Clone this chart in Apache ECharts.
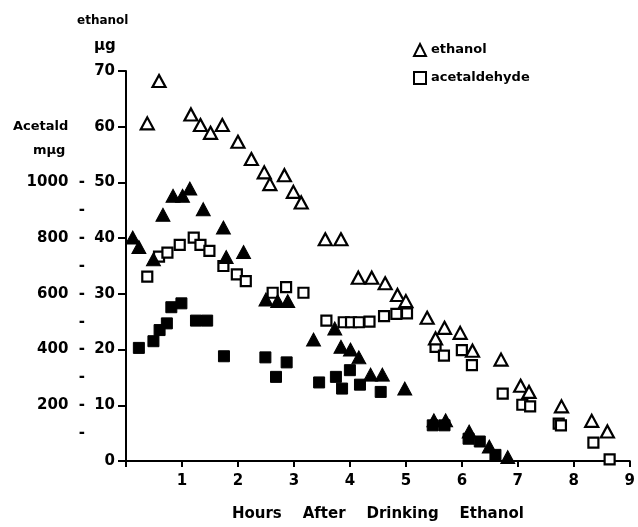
<!DOCTYPE html>
<html>
<head>
<meta charset="utf-8">
<script src="https://cdn.jsdelivr.net/npm/echarts@6/dist/echarts.min.js"></script>
<style>
  html, body { margin: 0; padding: 0; background: #fff; }
  #chart { width: 638px; height: 527px; }
</style>
</head>
<body>
<div id="chart"></div>
<script>
// hours after drinking
const ethHours = [0.38,0.59,1.16,1.33,1.51,1.72,2.0,2.24,2.47,2.57,2.83,2.99,3.13,3.56,3.84,4.15,4.39,4.63,4.85,5.0,5.38,5.53,5.69,5.97,6.19,6.70,7.05,7.20,7.78,8.32,8.60];
const ethVals  = [60.6,68.2,62.2,60.3,58.9,60.3,57.3,54.2,51.8,49.7,51.3,48.3,46.4,39.8,39.8,32.9,32.9,31.9,29.8,28.7,25.7,22.0,23.9,23.0,19.8,18.2,13.5,12.4,9.8,7.2,5.3];

const ethFillHours = [0.12,0.23,0.49,0.66,0.84,1.01,1.14,1.38,1.74,1.79,2.10,2.50,2.71,2.89,3.35,3.73,3.84,4.01,4.16,4.37,4.58,4.98,5.50,5.71,6.13,6.49,6.82];
const ethFillVals  = [40.1,38.4,36.2,44.2,47.6,47.6,48.9,45.2,41.9,36.6,37.5,29.0,28.7,28.7,21.8,23.8,20.5,20.0,18.6,15.5,15.5,13.0,7.3,7.3,5.3,2.6,0.7];

// acetaldehyde in mμg
const aldHours = [0.38,0.59,0.74,0.96,1.21,1.33,1.49,1.74,1.98,2.14,2.62,2.86,3.17,3.58,3.89,4.02,4.16,4.35,4.61,4.83,5.02,5.53,5.68,6.0,6.18,6.73,7.08,7.22,7.73,7.77,8.35,8.64];
const aldVals  = [662,734,748,776,802,776,754,700,670,646,604,624,604,504,498,498,498,500,520,528,530,410,378,398,344,242,202,196,134,128,66,6];

const aldFillHours = [0.23,0.49,0.60,0.73,0.81,0.99,1.25,1.45,1.75,2.49,2.68,2.87,3.45,3.75,3.86,4.0,4.18,4.55,5.48,5.69,6.12,6.32,6.60];
const aldFillVals  = [406,430,470,494,552,566,504,504,376,372,302,354,282,302,260,326,274,248,128,128,80,70,22];

const hourTicks = [1,2,3,4,5,6,7,8,9];

function pairs(xs, ys) { return xs.map((x, i) => [x, ys[i]]); }

const FONT = 'DejaVu Sans';
const chart = echarts.init(document.getElementById('chart'));

const openStyle = { color: '#fff', borderColor: '#000', borderWidth: 2.2, opacity: 1 };
const fillStyle = { color: '#000', borderColor: '#000', borderWidth: 1, opacity: 1 };

chart.setOption({
  animation: false,
  backgroundColor: '#fff',
  grid: { left: 126, right: 6, top: 71, bottom: 56 },
  legend: {
    data: ['ethanol', 'acetaldehyde'],
    orient: 'vertical',
    left: 408, top: 38,
    itemWidth: 12, itemHeight: 12, itemGap: 14,
    textStyle: { fontFamily: FONT, fontWeight: 'bold', fontSize: 13, color: '#000' }
  },
  xAxis: {
    type: 'value', min: 0, max: 9, interval: 1,
    name: 'Hours    After    Drinking    Ethanol',
    nameLocation: 'middle', nameGap: 46,
    nameTextStyle: { fontFamily: FONT, fontWeight: 'bold', fontSize: 15, color: '#000' },
    axisLine: { lineStyle: { color: '#000', width: 2 } },
    axisTick: { length: 6, lineStyle: { color: '#000', width: 2 } },
    splitLine: { show: false },
    axisLabel: {
      margin: 13, fontFamily: FONT, fontWeight: 'bold', fontSize: 15, color: '#000',
      formatter: v => hourTicks.includes(v) ? String(v) : ''
    }
  },
  yAxis: [{
    type: 'value', min: 0, max: 70, interval: 10, position: 'left',
    axisLine: { show: true, lineStyle: { color: '#000', width: 2 } },
    axisTick: { show: true, length: 8, lineStyle: { color: '#000', width: 2 } },
    splitLine: { show: false },
    axisLabel: { margin: 11, fontFamily: FONT, fontWeight: 'bold', fontSize: 15, color: '#000' }
  }, {
    type: 'value', min: 0, max: 1400, interval: 100, position: 'left',
    axisLine: { show: false }, axisTick: { show: false }, splitLine: { show: false },
    axisLabel: {
      margin: 41, fontFamily: FONT, fontWeight: 'bold', fontSize: 15, color: '#000',
      formatter: v => {
        if (v <= 0 || v > 1000) return '';
        return v % 200 === 0 ? v + '  -' : '-';
      }
    }
  }],
  graphic: [
    { type: 'text', left: 77, top: 15, style: { text: 'ethanol', font: 'bold 12px "DejaVu Sans"', fill: '#000' } },
    { type: 'text', left: 94, top: 39, style: { text: 'μg', font: 'bold 15px "DejaVu Sans"', fill: '#000' } },
    { type: 'text', left: 13, top: 120, style: { text: 'Acetald', font: 'bold 13px "DejaVu Sans"', fill: '#000' } },
    { type: 'text', left: 33, top: 144, style: { text: 'mμg', font: 'bold 13px "DejaVu Sans"', fill: '#000' } }
  ],
  series: [
    { name: 'acetaldehyde', type: 'scatter', yAxisIndex: 1, symbol: 'rect', symbolSize: 10,
      itemStyle: openStyle, data: pairs(aldHours, aldVals) },
    { name: 'acetaldehyde2', type: 'scatter', yAxisIndex: 1, symbol: 'rect', symbolSize: 11,
      itemStyle: fillStyle, data: pairs(aldFillHours, aldFillVals) },
    { name: 'ethanol', type: 'scatter', yAxisIndex: 0, symbol: 'triangle', symbolSize: [13, 12],
      itemStyle: openStyle, data: pairs(ethHours, ethVals) },
    { name: 'ethanol2', type: 'scatter', yAxisIndex: 0, symbol: 'triangle', symbolSize: [14, 13],
      itemStyle: fillStyle, data: pairs(ethFillHours, ethFillVals) }
  ]
});
</script>
</body>
</html>
